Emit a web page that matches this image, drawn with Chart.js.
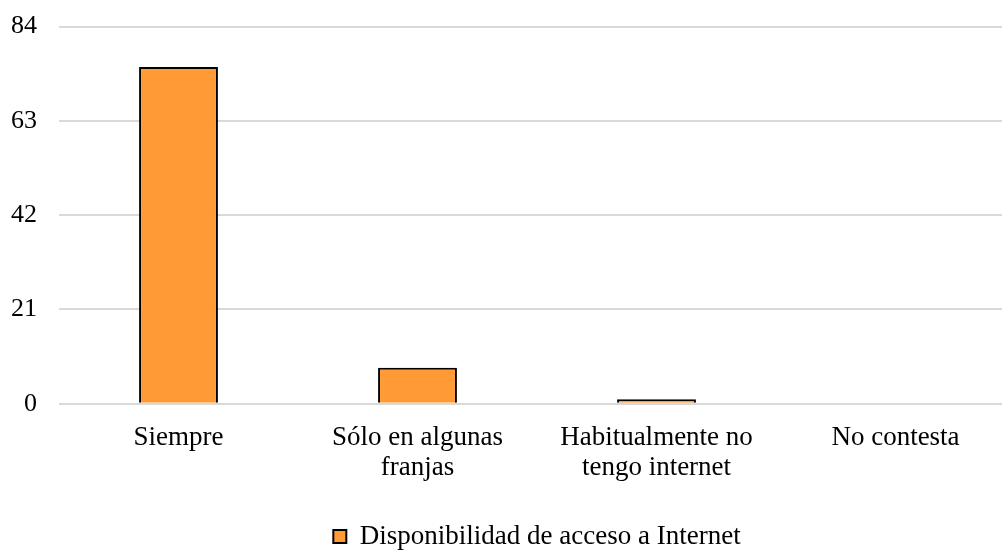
<!DOCTYPE html>
<html>
<head>
<meta charset="utf-8">
<script src="https://cdn.jsdelivr.net/npm/chart.js@4"></script>
<style>
  html, body { margin: 0; padding: 0; background: #fff; overflow: hidden; }
  #wrap { width: 1015px; height: 571px; position: relative; top: -11px; }
</style>
</head>
<body>
<div id="wrap"><canvas id="c"></canvas></div>
<script>
const categories = ["Siempre", ["Sólo en algunas", "franjas"], ["Habitualmente no", "tengo internet"], "No contesta"];
const seriesName = "Disponibilidad de acceso a Internet";
const values = [75, 8, 1, 0];
const yTicks = [0, 21, 42, 63, 84];

const FONT = "'Liberation Serif', 'Times New Roman', serif";

const centerLegend = {
  id: 'centerLegend',
  afterLayout(chart) {
    const l = chart.legend, ca = chart.chartArea;
    if (!l || !ca) return;
    const d = (ca.left + ca.right) / 2 - (l.left + l.right) / 2;
    l.left += d; l.right += d;
  }
};

new Chart(document.getElementById('c'), {
  type: 'bar',
  data: {
    labels: categories,
    datasets: [{
      label: seriesName,
      data: values,
      backgroundColor: '#FF9A35',
      borderColor: '#000000',
      borderWidth: 2,
      barPercentage: 0.33,
      categoryPercentage: 1.0
    }]
  },
  plugins: [centerLegend],
  options: {
    responsive: true,
    maintainAspectRatio: false,
    animation: false,
    layout: { padding: { left: -11, right: 0, top: 1, bottom: 0 } },
    plugins: {
      legend: {
        position: 'bottom',
        labels: {
          font: { family: FONT, size: 27 },
          color: '#000',
          boxWidth: 13,
          boxHeight: 13,
          padding: 0
        }
      },
      tooltip: { enabled: false }
    },
    scales: {
      x: {
        grid: { display: false },
        border: { display: false },
        afterFit: (scale) => { scale.height += 29; },
        ticks: {
          font: { family: FONT, size: 27, lineHeight: 1.08 },
          color: '#000',
          padding: 12,
          maxRotation: 0,
          autoSkip: false
        }
      },
      y: {
        min: 0,
        max: 84,
        afterBuildTicks: (axis) => { axis.ticks = yTicks.map(v => ({ value: v })); },
        grid: { color: '#D9D9D9', lineWidth: 2, drawTicks: false },
        border: { display: false },
        ticks: {
          font: { family: FONT, size: 26 },
          color: '#000',
          padding: 22
        }
      }
    }
  }
});
</script>
</body>
</html>
